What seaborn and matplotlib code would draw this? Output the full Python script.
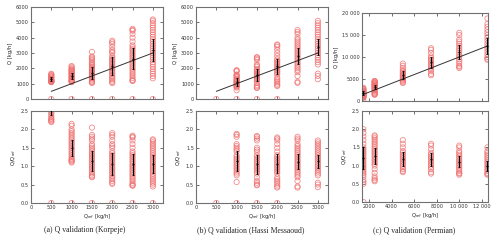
import numpy as np
import pandas as pd
import matplotlib
matplotlib.use("Agg")
import matplotlib.pyplot as plt
import seaborn as sns
from matplotlib.ticker import FuncFormatter, MultipleLocator

# ---- data (ratio Q/Q_ref per reference flow) ----
korpeje_qref = [500, 1000, 1500, 2000, 2500, 3000]
korpeje_ratio = [
    [2.2, 2.22, 2.25, 2.28, 2.3, 2.35, 2.4, 2.45, 2.5, 2.6, 2.7, 2.8, 2.9, 3.0, 3.1, 3.2, 3.3],
    [1.1, 1.13, 1.15, 1.18, 1.2, 1.25, 1.3, 1.35, 1.4, 1.45, 1.5, 1.55, 1.6, 1.65, 1.7, 1.75,
     1.8, 1.85, 1.9, 1.95, 2.0, 2.1, 2.15],
    [0.7, 0.72, 0.75, 0.8, 0.85, 0.9, 0.95, 1.0, 1.05, 1.1, 1.15, 1.2, 1.25, 1.3, 1.35, 1.4,
     1.45, 1.5, 1.55, 1.6, 1.7, 1.75, 1.8, 1.85, 2.05],
    [0.52, 0.55, 0.6, 0.65, 0.7, 0.75, 0.8, 0.85, 0.9, 0.95, 1.0, 1.05, 1.1, 1.15, 1.2, 1.25,
     1.3, 1.35, 1.4, 1.5, 1.55, 1.6, 1.7, 1.8, 1.85, 1.9],
    [0.47, 0.48, 0.5, 0.55, 0.6, 0.65, 0.7, 0.75, 0.8, 0.85, 0.9, 0.95, 1.0, 1.05, 1.1, 1.15,
     1.2, 1.25, 1.3, 1.35, 1.4, 1.5, 1.6, 1.7, 1.78, 1.8, 1.83],
    [0.45, 0.5, 0.55, 0.6, 0.65, 0.7, 0.75, 0.8, 0.85, 0.9, 0.95, 1.0, 1.05, 1.1, 1.15, 1.2,
     1.25, 1.3, 1.35, 1.4, 1.45, 1.5, 1.55, 1.6, 1.65, 1.7, 1.73],
]
korpeje_zero = [500, 1000, 1500, 2000, 2500, 3000]
korpeje_mean = [2.65, 1.5, 1.14, 1.07, 1.05, 1.06]
korpeje_sd = [0.25, 0.21, 0.27, 0.3, 0.28, 0.24]

hassi_qref = [1000, 1500, 2000, 2500, 3000]
hassi_ratio = [
    [0.57, 0.75, 0.8, 0.85, 0.9, 0.95, 1.0, 1.05, 1.1, 1.15, 1.2, 1.25, 1.3, 1.4, 1.45, 1.5,
     1.55, 1.6, 1.8, 1.85, 1.88],
    [0.48, 0.5, 0.55, 0.6, 0.7, 0.8, 0.85, 0.9, 0.95, 1.0, 1.05, 1.1, 1.15, 1.2, 1.25, 1.3,
     1.4, 1.45, 1.5, 1.7, 1.75, 1.8, 1.82],
    [0.42, 0.45, 0.5, 0.55, 0.6, 0.65, 0.7, 0.8, 0.85, 0.9, 0.95, 1.0, 1.05, 1.1, 1.15, 1.2,
     1.25, 1.3, 1.4, 1.5, 1.6, 1.7, 1.75, 1.78],
    [0.42, 0.45, 0.6, 0.7, 0.75, 0.8, 0.85, 0.9, 0.95, 1.0, 1.05, 1.1, 1.15, 1.2, 1.25, 1.3,
     1.35, 1.4, 1.45, 1.5, 1.55, 1.6, 1.7, 1.75, 1.8],
    [0.43, 0.5, 0.55, 0.75, 0.8, 0.85, 0.9, 0.95, 1.0, 1.05, 1.1, 1.15, 1.2, 1.25, 1.3, 1.35,
     1.4, 1.45, 1.5, 1.55, 1.6, 1.65, 1.7],
]
hassi_zero = [500, 1000, 1500, 2000]
hassi_mean = [1.14, 1.05, 1.07, 1.12, 1.13]
hassi_sd = [0.26, 0.25, 0.25, 0.2, 0.18]

permian_qref = [1500, 2500, 5000, 7500, 10000, 12500]
permian_ratio = [
    [0.5, 0.55, 0.6, 0.7, 0.75, 0.8, 0.85, 0.9, 0.95, 1.0, 1.05, 1.1, 1.15, 1.2, 1.25, 1.3,
     1.35, 1.4, 1.45, 1.5, 1.6, 1.7, 1.8, 1.9, 2.0],
    [0.57, 0.6, 0.65, 0.7, 0.8, 0.9, 1.0, 1.05, 1.1, 1.15, 1.2, 1.25, 1.3, 1.35, 1.4, 1.45,
     1.5, 1.55, 1.6, 1.65, 1.7, 1.75, 1.8, 1.83],
    [0.82, 0.85, 0.9, 0.95, 1.0, 1.05, 1.1, 1.15, 1.2, 1.25, 1.3, 1.35, 1.4, 1.5, 1.6, 1.7],
    [0.78, 0.82, 0.9, 0.95, 1.0, 1.05, 1.1, 1.15, 1.2, 1.25, 1.3, 1.35, 1.45, 1.55, 1.6],
    [0.75, 0.78, 0.8, 0.85, 0.9, 0.95, 1.0, 1.05, 1.1, 1.15, 1.2, 1.25, 1.3, 1.35, 1.4, 1.5, 1.55],
    [0.75, 0.77, 0.8, 0.85, 0.9, 0.95, 1.0, 1.05, 1.1, 1.15, 1.2, 1.25, 1.3, 1.35, 1.4, 1.5],
]
permian_zero = [1500]
permian_mean = [1.2, 1.27, 1.19, 1.17, 1.11, 1.0]
permian_sd = [0.3, 0.22, 0.19, 0.17, 0.16, 0.14]

captions = ["(a) Q validation (Korpeje)", "(b) Q validation (Hassi Messaoud)",
            "(c) Q validation (Permian)"]

sns.set_style("ticks")
plt.rcParams["font.family"] = ["DejaVu Sans"]

RED = "#f07070"
SPINE = "#707070"


def thousands(v, pos):
    v = int(round(v))
    if abs(v) >= 10000:
        return f"{v // 1000} {v % 1000:03d}"
    return str(v)


def style_axes(ax):
    for s in ax.spines.values():
        s.set_color(SPINE)
        s.set_linewidth(0.8)
    ax.tick_params(direction="in", top=True, right=True, length=2, width=0.5,
                   labelsize=3.6, pad=1.5, colors="#333333")
    ax.xaxis.set_major_formatter(FuncFormatter(thousands))
    ax.yaxis.set_major_formatter(FuncFormatter(thousands))


def make_frame(qref, ratios):
    rows = []
    for q, vals in zip(qref, ratios):
        for r in vals:
            rows.append({"qref": q, "ratio": r, "q": r * q})
    return pd.DataFrame(rows)


def draw_panel(ax_top, ax_bot, qref, ratios, zeros, mean, sd, xlim, ytop, ystep, xstep, xticks0):
    df = make_frame(qref, ratios)
    zdf = pd.DataFrame({"qref": zeros, "q": [0.0] * len(zeros), "ratio": [0.0] * len(zeros)})
    qarr = np.array(qref, dtype=float)
    m = np.array(mean)
    s = np.array(sd)
    for ax, col, scale in [(ax_top, "q", qarr), (ax_bot, "ratio", np.ones_like(qarr))]:
        for d in (df, zdf):
            sns.scatterplot(data=d, x="qref", y=col, ax=ax, marker="o", s=14,
                            facecolor="none", edgecolor=RED, linewidth=0.6, alpha=0.8,
                            zorder=2, legend=False)
        ax.errorbar(qarr, m * scale, yerr=s * scale, fmt="_", color="black",
                    ecolor="black", elinewidth=0.9, capsize=1.0, capthick=0.6,
                    markersize=2.0, zorder=4)
        ax.set_xlim(*xlim)
        ax.xaxis.set_major_locator(MultipleLocator(xstep))
        style_axes(ax)
    line = pd.DataFrame({"x": [min(zeros + qref), qref[-1]]})
    sns.lineplot(data=line, x="x", y="x", ax=ax_top, color="#333333", linewidth=0.7, zorder=3)
    ax_top.set_ylim(0, ytop)
    ax_top.yaxis.set_major_locator(MultipleLocator(ystep))
    ax_top.set_xticklabels([])
    ax_top.set_xlabel("")
    ax_top.set_ylabel("Q [kg/h]", fontsize=3.8, labelpad=2)
    ax_bot.set_ylim(0, 2.5)
    ax_bot.yaxis.set_major_locator(MultipleLocator(0.5))
    ax_bot.yaxis.set_major_formatter(FuncFormatter(lambda v, p: f"{v:.1f}"))
    ax_bot.set_ylabel("Q/Q$_{ref}$", fontsize=3.8, labelpad=2)
    ax_bot.set_xlabel("Q$_{ref}$ [kg/h]", fontsize=3.8, labelpad=1.5)
    if xticks0 is not None:
        for ax in (ax_top, ax_bot):
            ax.set_xticks(xticks0)
        ax_top.set_xticklabels([])


fig = plt.figure(figsize=(5.0, 2.41), dpi=100)
W, H = 500.0, 241.0


def axes_px(x0, x1, y0, y1):
    return fig.add_axes([x0 / W, 1 - y1 / H, (x1 - x0) / W, (y1 - y0) / H])


a_top = axes_px(31, 163, 7, 99)
a_bot = axes_px(31, 163, 111, 203)
b_top = axes_px(196, 328, 7, 99)
b_bot = axes_px(196, 328, 111, 203)
c_top = axes_px(362, 488, 13, 101)
c_bot = axes_px(362, 488, 111, 202)

draw_panel(a_top, a_bot, korpeje_qref, korpeje_ratio, korpeje_zero, korpeje_mean, korpeje_sd,
           (0, 3250), 6000, 1000, 500, None)
draw_panel(b_top, b_bot, hassi_qref, hassi_ratio, hassi_zero, hassi_mean, hassi_sd,
           (0, 3250), 6000, 1000, 500, None)
draw_panel(c_top, c_bot, permian_qref, permian_ratio, permian_zero, permian_mean, permian_sd,
           (1380, 12550), 20000, 5000, 2000, [2000, 4000, 6000, 8000, 10000, 12000])

for xc, text in zip([85, 251, 414], captions):
    fig.text(xc / W, 1 - 230 / H, text, ha="center", va="center", fontsize=5.6,
             family=["Liberation Serif", "DejaVu Serif"])

fig.savefig("out.png", dpi=100)
